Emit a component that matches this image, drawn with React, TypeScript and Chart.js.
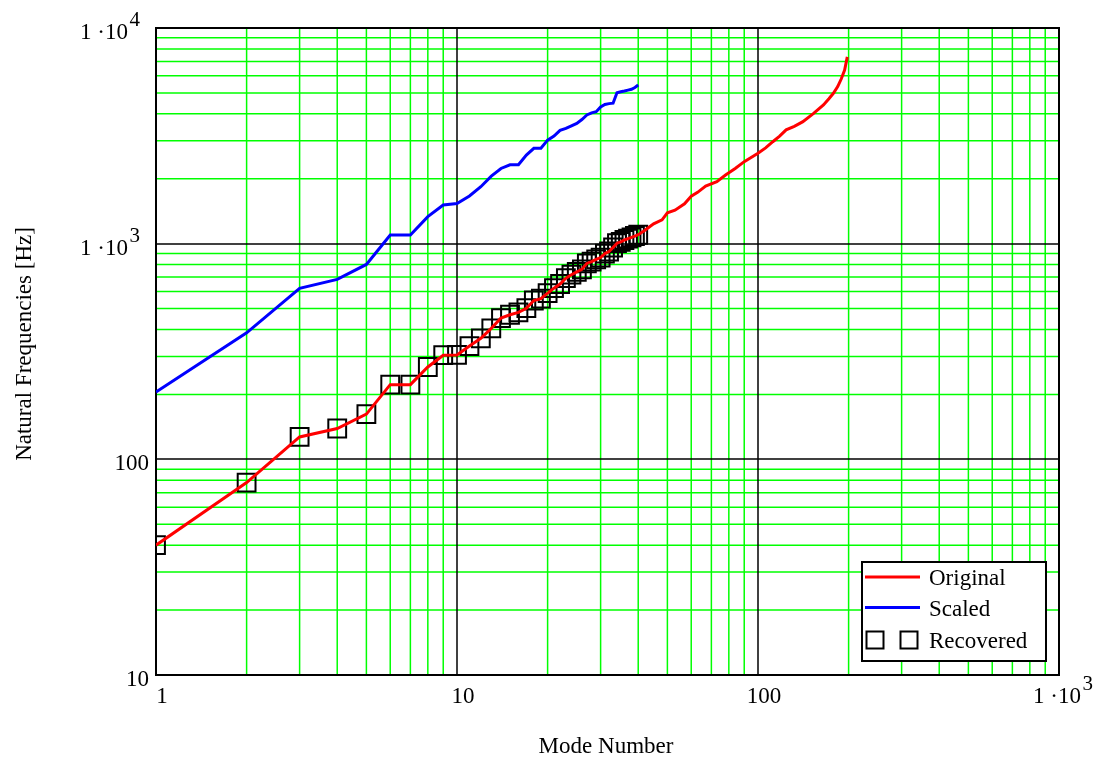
import React, { useEffect, useRef } from "react";
import { Chart, registerables } from "chart.js";

Chart.register(...registerables);

// ---- Data ----
const modesLow = [1, 2, 3, 4, 5, 6, 7, 8, 9, 10, 11, 12, 13, 14, 15, 16, 17, 18, 19, 20,
  21, 22, 23, 24, 25, 26, 27, 28, 29, 30, 31, 32, 33, 34, 35, 36, 37, 38, 39, 40];

const originalLow = [40, 78, 127, 139, 162, 222, 222, 268, 304, 305, 335, 364, 405, 452, 468, 480, 502, 545, 556, 590,
  622, 650, 692, 718, 740, 760, 810, 825, 845, 862, 900, 920, 960, 1005, 1020, 1040, 1055, 1070, 1085, 1100];

const modesHigh = [42, 45, 48, 50, 53, 57, 60, 63, 67, 73, 78, 84, 90, 100, 106, 112, 118, 124, 132, 141, 153, 165, 172, 178, 184, 189, 194, 198];
const originalHigh = [1150, 1235, 1290, 1390, 1430, 1530, 1660, 1730, 1850, 1940, 2080, 2230, 2400, 2625, 2780, 2970, 3150, 3370, 3500, 3680, 4020, 4400, 4700, 4980, 5350, 5800, 6380, 7350];

const scaledFreqs = [205, 386, 621, 683, 801, 1097, 1097, 1334, 1510, 1535, 1663, 1836, 2056, 2232, 2321, 2321, 2576, 2768, 2768, 3020,
  3153, 3350, 3423, 3520, 3611, 3764, 3950, 4040, 4090, 4300, 4420, 4460, 4480, 5010, 5060, 5100, 5150, 5200, 5300, 5440];

const recoveredFreqs = [40, 78, 127, 139, 162, 222, 222, 268, 304, 305, 335, 364, 405, 452, 468, 480, 502, 545, 556, 590,
  622, 650, 692, 718, 740, 760, 810, 825, 845, 862, 900, 920, 960, 1005, 1020, 1040, 1055, 1070, 1085, 1100];

const xGridValues = [1, 2, 3, 4, 5, 6, 7, 8, 9, 10, 20, 30, 40, 50, 60, 70, 80, 90,
  100, 200, 300, 400, 500, 600, 700, 800, 900, 1000];
const yGridValues = [10, 20, 30, 40, 50, 60, 70, 80, 90, 100, 200, 300, 400, 500, 600, 700, 800, 900,
  1000, 2000, 3000, 4000, 5000, 6000, 7000, 8000, 9000, 10000];

const xTickLabels: [number, string, string][] = [[1, "1", ""], [10, "10", ""], [100, "100", ""], [1000, "1 \u00b710", "3"]];
const yTickLabels: [number, string, string][] = [[10, "10", ""], [100, "100", ""], [1000, "1 \u00b710", "3"], [10000, "1 \u00b710", "4"]];

const xTitle = "Mode Number";
const yTitle = "Natural Frequencies [Hz]";
const legendLabels = ["Original", "Scaled", "Recovered"];

const FONT = '23px "Liberation Serif", "Times New Roman", serif';
const SUPFONT = '21px "Liberation Serif", "Times New Roman", serif';

const isDecade = (v: number) => {
  const l = Math.log10(v);
  return Math.abs(l - Math.round(l)) < 1e-9;
};

const decorPlugin = {
  id: "decor",
  beforeDatasetsDraw(chart: any) {
    const { ctx, chartArea: a } = chart;
    const xs = chart.scales.x;
    const ys = chart.scales.y;
    ctx.save();
    // minor (green) grid first, then decade (black) lines
    for (const pass of [0, 1]) {
      for (const v of xGridValues) {
        const dec = isDecade(v);
        if ((pass === 1) !== dec) continue;
        const px = dec ? Math.round(xs.getPixelForValue(v)) : xs.getPixelForValue(v);
        ctx.strokeStyle = dec ? "#000000" : "#00ff00";
        ctx.lineWidth = dec ? 1.5 : 1.5;
        ctx.beginPath();
        ctx.moveTo(px, a.top);
        ctx.lineTo(px, a.bottom);
        ctx.stroke();
      }
      for (const v of yGridValues) {
        const dec = isDecade(v);
        if ((pass === 1) !== dec) continue;
        const py = dec ? Math.round(ys.getPixelForValue(v)) : ys.getPixelForValue(v);
        ctx.strokeStyle = dec ? "#000000" : "#00ff00";
        ctx.lineWidth = dec ? 1.5 : 1.5;
        ctx.beginPath();
        ctx.moveTo(a.left, py);
        ctx.lineTo(a.right, py);
        ctx.stroke();
      }
    }
    ctx.strokeStyle = "#000";
    ctx.lineWidth = 2;
    ctx.strokeRect(a.left, a.top, a.right - a.left, a.bottom - a.top);
    ctx.restore();
  },
  afterDraw(chart: any) {
    const { ctx, chartArea: a } = chart;
    const xs = chart.scales.x;
    const ys = chart.scales.y;
    ctx.save();
    ctx.fillStyle = "#000";
    // x tick labels
    for (const [v, main, sup] of xTickLabels) {
      const px = xs.getPixelForValue(v);
      const by = a.bottom + 28;
      ctx.font = FONT;
      if (!sup) {
        ctx.textAlign = "center";
        ctx.fillText(main, px + 6, by);
      } else {
        ctx.textAlign = "left";
        const sx = px - 26;
        ctx.fillText(main, sx, by);
        const w = ctx.measureText(main).width;
        ctx.font = SUPFONT;
        ctx.fillText(sup, sx + w + 1.5, by - 13);
      }
    }
    // y tick labels
    for (const [v, main, sup] of yTickLabels) {
      const py = ys.getPixelForValue(v);
      const by = py + 11;
      ctx.font = FONT;
      if (!sup) {
        ctx.textAlign = "right";
        ctx.fillText(main, a.left - 7, by);
      } else {
        ctx.textAlign = "right";
        ctx.fillText(main, a.left - 28, by);
        ctx.font = SUPFONT;
        ctx.textAlign = "left";
        ctx.fillText(sup, a.left - 26.5, by - 13);
      }
    }
    // axis titles
    ctx.font = FONT;
    ctx.textAlign = "center";
    ctx.fillText(xTitle, 606, 753);
    ctx.save();
    ctx.translate(31, 344);
    ctx.rotate(-Math.PI / 2);
    ctx.fillText(yTitle, 0, 0);
    ctx.restore();

    // legend
    const lx = 862, ly = 562, lw = 184, lh = 99;
    ctx.fillStyle = "#fff";
    ctx.fillRect(lx, ly, lw, lh);
    ctx.strokeStyle = "#000";
    ctx.lineWidth = 2;
    ctx.strokeRect(lx, ly, lw, lh);
    ctx.lineWidth = 3;
    ctx.strokeStyle = "#ff0000";
    ctx.beginPath(); ctx.moveTo(865, 577); ctx.lineTo(920, 577); ctx.stroke();
    ctx.strokeStyle = "#0000ff";
    ctx.beginPath(); ctx.moveTo(865, 607.5); ctx.lineTo(920, 607.5); ctx.stroke();
    ctx.strokeStyle = "#000";
    ctx.lineWidth = 2;
    ctx.strokeRect(866.5, 631.5, 17, 17);
    ctx.strokeRect(900.5, 631.5, 17, 17);
    ctx.fillStyle = "#000";
    ctx.font = FONT;
    ctx.textAlign = "left";
    ctx.fillText(legendLabels[0], 929, 585);
    ctx.fillText(legendLabels[1], 929, 616);
    ctx.fillText(legendLabels[2], 929, 648);
    ctx.restore();
  },
};

export default function App() {
  const ref = useRef<HTMLCanvasElement | null>(null);
  useEffect(() => {
    if (!ref.current) return;
    const originalPts = [
      ...modesLow.map((m, i) => ({ x: m, y: originalLow[i] })),
      ...modesHigh.map((m, i) => ({ x: m, y: originalHigh[i] })),
    ];
    const scaledPts = modesLow.map((m, i) => ({ x: m, y: scaledFreqs[i] }));
    const recoveredPts = modesLow.map((m, i) => ({ x: m, y: recoveredFreqs[i] }));

    const chart = new Chart(ref.current, {
      type: "line",
      data: {
        datasets: [
          {
            label: legendLabels[0],
            data: originalPts,
            borderColor: "#ff0000",
            borderWidth: 3,
            pointRadius: 0,
            tension: 0,
            clip: 0,
          } as any,
          {
            label: legendLabels[1],
            data: scaledPts,
            borderColor: "#0000ff",
            borderWidth: 3,
            pointRadius: 0,
            tension: 0,
            clip: 0,
          } as any,
          {
            label: legendLabels[2],
            data: recoveredPts,
            showLine: false,
            pointStyle: "rect",
            pointRadius: 12.6,
            pointBorderColor: "#000000",
            pointBorderWidth: 2,
            pointBackgroundColor: "rgba(0,0,0,0)",
            clip: 0,
          } as any,
        ],
      },
      options: {
        animation: false,
        responsive: false,
        events: [],
        layout: { padding: { left: 156, top: 28, right: 36, bottom: 85 } },
        plugins: { legend: { display: false }, tooltip: { enabled: false } },
        scales: {
          x: {
            type: "logarithmic",
            min: 1,
            max: 1000,
            ticks: { display: false },
            grid: { display: false, drawTicks: false },
            border: { display: false },
          },
          y: {
            type: "logarithmic",
            min: 10,
            max: 10000,
            ticks: { display: false },
            grid: { display: false, drawTicks: false },
            border: { display: false },
          },
        },
      } as any,
      plugins: [decorPlugin],
    });
    return () => chart.destroy();
  }, []);

  return (
    <div style={{ position: "absolute", left: 0, top: 0, width: 1095, height: 760, background: "#fff" }}>
      <canvas ref={ref} width={1095} height={760} style={{ display: "block" }} />
    </div>
  );
}
